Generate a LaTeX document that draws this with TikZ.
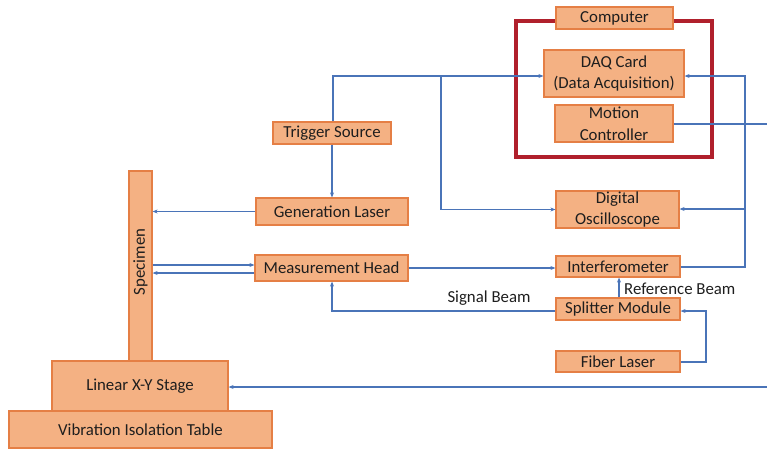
\documentclass[tikz,border=0pt]{standalone}
\usepackage{fontspec}
\setmainfont{Carlito}
\usetikzlibrary{arrows.meta,calc}
\definecolor{boxfill}{HTML}{F4B183}
\definecolor{boxline}{HTML}{E57F45}
\definecolor{wire}{HTML}{4A74B8}
\definecolor{redframe}{HTML}{B0202C}
\definecolor{txt}{HTML}{1E1E1E}
\begin{document}
\begin{tikzpicture}[x=1pt,y=-1pt,
  blk/.style={draw=boxline,fill=boxfill,line width=1.2pt,inner sep=0pt,align=center,
    text=txt,font=\fontsize{16.8}{21.5}\selectfont},
  wireline/.style={draw=wire,line width=1.3pt},
  arr/.style={wireline,-{Stealth[length=5pt,width=4pt]}},
  lbl/.style={text=txt,font=\fontsize{16.8}{20}\selectfont,inner sep=0pt}]
\useasboundingbox (0,0) rectangle (767,451);
% red frame
\node[draw=redframe,line width=3.5pt,minimum width=196pt,minimum height=136pt,inner sep=0pt] (frame) at (614,89) {};
% boxes
\node[blk,minimum width=117pt,minimum height=22pt] (comp) at (614.5,18) {Computer};
\node[blk,minimum width=140pt,minimum height=47pt] (daq) at (614,73.5) {DAQ Card\\(Data Acquisition)};
\node[blk,minimum width=118pt,minimum height=37pt] (motion) at (614,123.5) {Motion\\Controller};
\node[blk,minimum width=118pt,minimum height=22pt] (trig) at (332,133) {Trigger Source};
\node[blk,minimum width=152pt,minimum height=27pt] (gen) at (332,211.5) {Generation Laser};
\node[blk,minimum width=153pt,minimum height=26pt] (meas) at (331.5,268) {Measurement Head};
\node[blk,minimum width=23pt,minimum height=190pt] (spec) at (140.5,266) {};
\node[lbl,rotate=90] (spectxt) at (140.5,262) {Specimen};
\node[blk,minimum width=176pt,minimum height=50pt] (stage) at (140,386) {Linear X-Y Stage};
\node[blk,minimum width=263pt,minimum height=37pt] (table) at (140.5,429.5) {Vibration Isolation Table};
\node[blk,minimum width=123pt,minimum height=37pt] (osc) at (617.5,209.5) {Digital\\Oscilloscope};
\node[blk,minimum width=124pt,minimum height=21pt] (intf) at (618,266.5) {Interferometer};
\node[blk,minimum width=124pt,minimum height=22pt] (split) at (618,309) {Splitter Module};
\node[blk,minimum width=124pt,minimum height=21pt] (fiber) at (618,361.5) {Fiber Laser};
% helper coordinates
\coordinate (tcorner) at (333,76);
\coordinate (obranch) at (441,76);
\coordinate (rtop) at (745,76);
\coordinate (rosc) at (745,209);
\coordinate (rint) at (745,267);
\coordinate (sigcorner) at (332,311);
\coordinate (fcorner) at (706,362);
\coordinate (fsplit) at (706,311);
\coordinate (motionend) at (767,124);
\coordinate (stagestart) at (767,387);
% connectors
\draw[arr] (trig.north -| tcorner) -- (tcorner) -- (tcorner -| daq.west);
\draw[arr] (obranch) |- (osc.west);
\draw[arr] (trig.south) -- (gen.north);
\draw[arr] (gen.west) -- (gen.west -| spec.east);
\draw[arr] (spec.east |- 0,265) -- (meas.west |- 0,265);
\draw[arr] (meas.west |- 0,273) -- (spec.east |- 0,273);
\draw[arr] (meas.east) -- (intf.west |- meas.east);
\draw[arr] (intf.east |- rint) -- (rint) -- (rtop) -- (rtop -| daq.east);
\draw[arr] (rosc) -- (rosc -| osc.east);
\draw[arr] (split.north -| 619,0) -- (intf.south -| 619,0);
\draw[arr] (split.west |- sigcorner) -- (sigcorner) -- (meas.south -| sigcorner);
\draw[arr] (fiber.east |- fcorner) -- (fcorner) -- (fsplit) -- (fsplit -| split.east);
\draw[wireline] (motion.east |- motionend) -- (motionend);
\draw[arr] (stagestart) -- (stagestart -| stage.east);
% labels
\node[lbl,anchor=west] (refbeam) at (624,289) {Reference Beam};
\node[lbl] (sigbeam) at (489,298) {Signal Beam};
\end{tikzpicture}
\end{document}
